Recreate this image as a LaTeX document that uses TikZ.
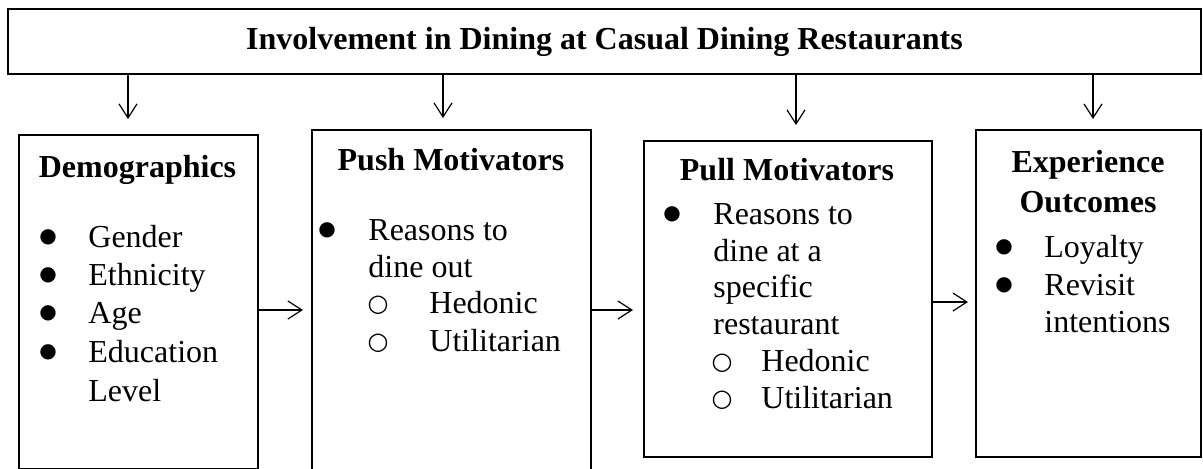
\documentclass[tikz,border=0pt]{standalone}
\usepackage{fontspec}
\setmainfont{Liberation Serif}
\newfontfamily\markfont{DejaVu Sans}
\usetikzlibrary{arrows.meta}

\begin{document}
\begin{tikzpicture}[x=0.5pt, y=-0.5pt,
  framebox/.style={rectangle, draw=black, line width=0.75pt, inner sep=0pt},
  titletxt/.style={font=\fontsize{16}{18}\selectfont\bfseries},
  headtxt/.style={anchor=base, inner sep=0pt, font=\fontsize{16}{18}\selectfont\bfseries},
  itemtxt/.style={anchor=base west, inner sep=0pt, font=\fontsize{16}{18}\selectfont},
  bulletmark/.style={anchor=center, inner sep=0pt, font=\fontsize{10}{12}\markfont},
  circmark/.style={anchor=center, inner sep=0pt, font=\fontsize{12}{14}\markfont},
  arr/.style={-{Straight Barb[length=7pt, width=9pt]}, line width=0.6pt}
]
  \useasboundingbox (0,0) rectangle (1203,468);

  % frames
  \node[framebox, titletxt, minimum width=596.5pt, minimum height=32.5pt] (top) at (604.5, 41.5)
    {Involvement in Dining at Casual Dining Restaurants};
  \node[framebox, minimum width=119.5pt, minimum height=167pt] (demo) at (138.5, 302) {};
  \node[framebox, minimum width=139.5pt, minimum height=170pt] (push) at (451.5, 300) {};
  \node[framebox, minimum width=144pt,   minimum height=158pt] (pull) at (788, 299) {};
  \node[framebox, minimum width=112.5pt, minimum height=163.5pt] (exp) at (1088.5, 293.5) {};

  % demographics
  \node[headtxt] (demohd) at (137.5, 177) {Demographics};
  \node[bulletmark] (db1) at (48, 237) {●};
  \node[itemtxt]    (dt1) at (88, 247) {Gender};
  \node[bulletmark] (db2) at (48, 275) {●};
  \node[itemtxt]    (dt2) at (88, 285) {Ethnicity};
  \node[bulletmark] (db3) at (48, 313) {●};
  \node[itemtxt]    (dt3) at (88, 323) {Age};
  \node[bulletmark] (db4) at (48, 352) {●};
  \node[itemtxt]    (dt4) at (88, 362) {Education};
  \node[itemtxt]    (dt5) at (88, 401) {Level};

  % push motivators
  \node[headtxt] (pushhd) at (451, 170) {Push Motivators};
  \node[bulletmark] (pb1) at (327, 230) {●};
  \node[itemtxt]    (pt1) at (368, 240) {Reasons to};
  \node[itemtxt]    (pt2) at (368, 277) {dine out};
  \node[circmark]   (pc1) at (378, 305) {○};
  \node[itemtxt]    (pt3) at (429, 313) {Hedonic};
  \node[circmark]   (pc2) at (378, 343) {○};
  \node[itemtxt]    (pt4) at (429, 351) {Utilitarian};

  % pull motivators
  \node[headtxt] (pullhd) at (787, 180) {Pull Motivators};
  \node[bulletmark] (qb1) at (672, 214) {●};
  \node[itemtxt]    (qt1) at (713, 224) {Reasons to};
  \node[itemtxt]    (qt2) at (713, 261) {dine at a};
  \node[itemtxt]    (qt3) at (713, 297) {specific};
  \node[itemtxt]    (qt4) at (713, 334) {restaurant};
  \node[circmark]   (qc1) at (722, 363) {○};
  \node[itemtxt]    (qt5) at (761, 371) {Hedonic};
  \node[circmark]   (qc2) at (722, 400) {○};
  \node[itemtxt]    (qt6) at (761, 408) {Utilitarian};

  % experience outcomes
  \node[headtxt] (exphd1) at (1088, 172) {Experience};
  \node[headtxt] (exphd2) at (1088, 212) {Outcomes};
  \node[bulletmark] (eb1) at (1004, 247) {●};
  \node[itemtxt]    (et1) at (1044, 257) {Loyalty};
  \node[bulletmark] (eb2) at (1004, 285) {●};
  \node[itemtxt]    (et2) at (1044, 295) {Revisit};
  \node[itemtxt]    (et3) at (1044, 332) {intentions};

  % arrow ends
  \coordinate (v1) at (128, 119);
  \coordinate (v2) at (443, 118);
  \coordinate (v3) at (796, 125);
  \coordinate (v4) at (1093, 119);
  \coordinate (h1) at (303, 310);
  \coordinate (h2) at (633, 310);
  \coordinate (h3) at (968, 302);

  \draw[arr] (top.south -| v1) -- (v1);
  \draw[arr] (top.south -| v2) -- (v2);
  \draw[arr] (top.south -| v3) -- (v3);
  \draw[arr] (top.south -| v4) -- (v4);
  \draw[arr] (demo.east |- h1) -- (h1);
  \draw[arr] (push.east |- h2) -- (h2);
  \draw[arr] (pull.east |- h3) -- (h3);
\end{tikzpicture}
\end{document}
